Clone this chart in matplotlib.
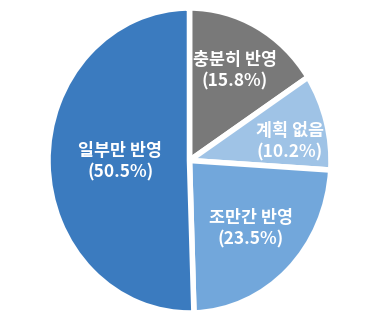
import numpy as np
import matplotlib
matplotlib.use("Agg")
import matplotlib.pyplot as plt

plt.rcParams['font.family'] = ['Noto Sans CJK KR', 'DejaVu Sans']

labels = ["충분히 반영", "계획 없음", "조만간 반영", "일부만 반영"]
values = [15.8, 10.2, 23.5, 50.5]
colors = ["#797979", "#9fc3e6", "#72a7db", "#3b7bbf"]
# label placement: fraction of radius, and angle nudge (deg) off the wedge middle
label_r = [0.67, 0.72, 0.62, 0.49]
label_dang = [0, -5, 0, 0]

fig = plt.figure(figsize=(3.79, 3.23), dpi=100)
# pie is a little taller than wide in the reference
ax = fig.add_axes([48 / 379, 10 / 323, 283 / 379, 305 / 323])

wedges, _ = ax.pie(values, colors=colors, startangle=90, counterclock=False,
                   wedgeprops=dict(edgecolor="white", linewidth=4))
ax.set_aspect('auto')
ax.set_xlim(-1.0, 1.0)
ax.set_ylim(-1.0, 1.0)

for w, lab, v, r, da in zip(wedges, labels, values, label_r, label_dang):
    ang = np.deg2rad((w.theta1 + w.theta2) / 2 + da)
    ax.text(r * np.cos(ang), r * np.sin(ang), "%s\n(%.1f%%)" % (lab, v),
            color="white", fontsize=12.5, fontweight="bold",
            ha="center", va="center", linespacing=1.25)

fig.savefig("out.png", dpi=100)
